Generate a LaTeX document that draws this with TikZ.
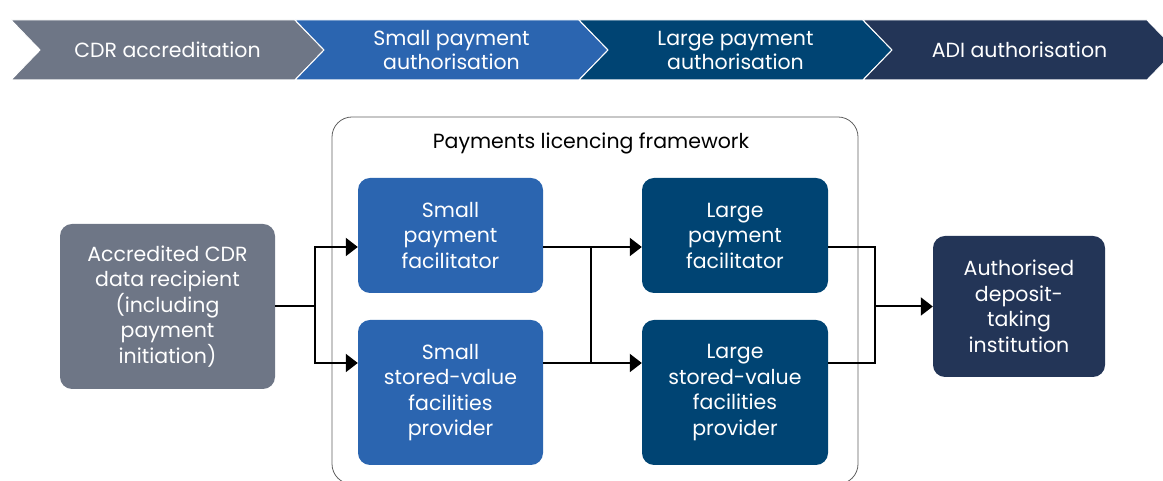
\documentclass[tikz,border=0pt]{standalone}
\usepackage{fontspec}
\setmainfont{Poppins}
\usetikzlibrary{positioning, arrows.meta, calc}
\definecolor{LicGray}{RGB}{110,118,134}
\definecolor{LicBlue}{RGB}{43,101,176}
\definecolor{LicDeep}{RGB}{0,68,115}
\definecolor{LicNavy}{RGB}{35,53,87}
\definecolor{LicFrame}{RGB}{95,95,95}

\begin{document}
\begin{tikzpicture}[x=1pt, y=1pt,
          stage/.style={text=white, align=center,
                        font=\fontsize{20.5}{24}\selectfont},
          entity/.style={rectangle, rounded corners=12pt, text=white,
                         align=center, inner sep=2pt,
                         font=\fontsize{20.5}{25.5}\selectfont},
          wire/.style={black, line width=2pt},
          feed/.style={wire, -{Triangle[length=12pt, width=18pt]}}
        ]
        \useasboundingbox (0,0) rectangle (1163,481);

        % Stage chevrons
        \foreach \i/\col/\txt in {0/LicGray/{CDR accreditation},
                                  1/LicBlue/{Small payment\\authorisation},
                                  2/LicDeep/{Large payment\\authorisation},
                                  3/LicNavy/{ADI authorisation}}
        {
          \pgfmathsetmacro{\x}{11+284*\i}
          \filldraw[fill=\col, draw=white, line width=1pt]
            (\x,461) -- ++(284,0) -- ++(29,-30) -- ++(-29,-30)
            -- ++(-284,0) -- ++(29,30) -- cycle;
          \node[stage] (st\i) at (\x+156.5,431) {\txt};
        }

        % Framework container
        \draw[LicFrame, line width=0.8pt, rounded corners=20pt]
          (332,-3) rectangle (858,364);
        \node[font=\fontsize{20.5}{24}\selectfont] (fwtitle) at (591,338)
          {Payments licencing framework};

        % Entities
        \node[entity, fill=LicGray, minimum width=215pt, minimum height=165pt]
          (acc) at (167.5,174.5)
          {Accredited CDR\\data recipient\\(including\\payment\\initiation)};
        \node[entity, fill=LicBlue, minimum width=185pt, minimum height=115pt]
          (spf) at (450.5,245.5) {Small\\payment\\facilitator};
        \node[entity, fill=LicBlue, minimum width=185pt, minimum height=145pt]
          (ssvf) at (450.5,88.5)
          {Small\\stored-value\\facilities\\provider};
        \node[entity, fill=LicDeep, minimum width=186pt, minimum height=115pt]
          (lpf) at (735,245.5) {Large\\payment\\facilitator};
        \node[entity, fill=LicDeep, minimum width=186pt, minimum height=145pt]
          (lsvf) at (735,88.5)
          {Large\\stored-value\\facilities\\provider};
        \node[entity, fill=LicNavy, minimum width=172pt, minimum height=141pt]
          (adi) at (1019,174.5)
          {Authorised\\deposit-\\taking\\institution};

        % Branch levels and junctions
        \coordinate (hiY) at (0,234);
        \coordinate (loY) at (0,118);
        \coordinate (joinA) at (315,174.5);
        \coordinate (joinB) at (591,174.5);
        \coordinate (joinC) at (875,174.5);

        % Connectors
        \draw[wire] (acc.east) -- (joinA);
        \draw[feed] (joinA) |- (spf.west |- hiY);
        \draw[feed] (joinA) |- (ssvf.west |- loY);
        \draw[feed] (spf.east |- hiY) -- (lpf.west |- hiY);
        \draw[feed] (ssvf.east |- loY) -- (lsvf.west |- loY);
        \draw[wire] (joinB |- hiY) -- (joinB |- loY);
        \draw[wire] (lpf.east |- hiY) -| (joinC |- loY) -- (lsvf.east |- loY);
        \draw[feed] (joinC) -- (adi.west);
      \end{tikzpicture}
\end{document}
